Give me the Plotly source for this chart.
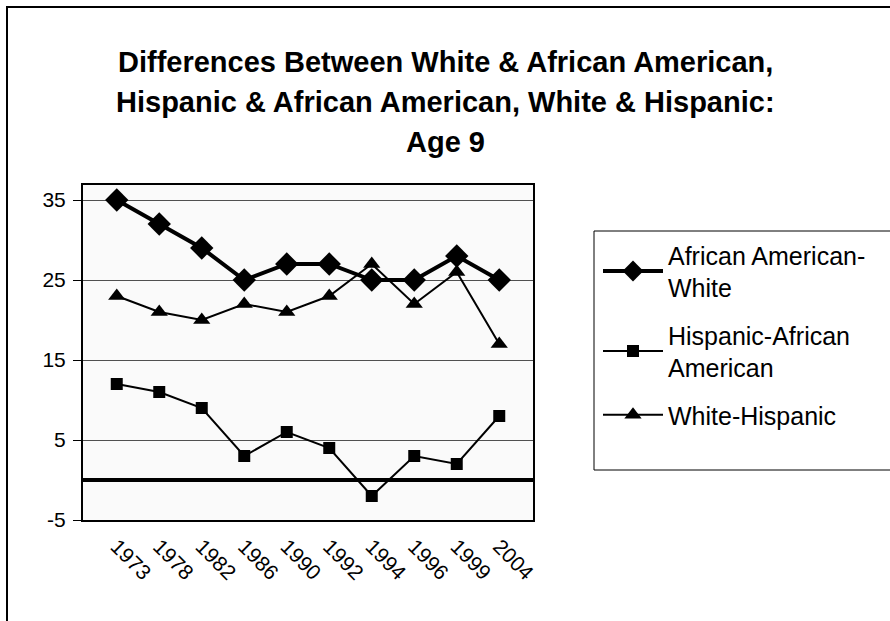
import plotly.graph_objects as go

years = ["1973", "1978", "1982", "1986", "1990", "1992", "1994", "1996", "1999", "2004"]
aa_white = [35, 32, 29, 25, 27, 27, 25, 25, 28, 25]
hisp_aa = [12, 11, 9, 3, 6, 4, -2, 3, 2, 8]
white_hisp = [23, 21, 20, 22, 21, 23, 27, 22, 26, 17]

names = ["African American-<br>White", "Hispanic-African<br>American", "White-Hispanic"]
title_lines = [
    "Differences Between White & African American,",
    "Hispanic & African American, White & Hispanic:",
    "Age 9",
]
y_tick_vals = [-5, 5, 15, 25, 35]
y_tick_text = ["-5", "5", "15", "25", "35"]

FONT = "Liberation Sans, Arial, sans-serif"

# plot area in pixels
L, R, T, B = 83, 533, 185, 520
W, H = 890, 621

def px_x(p):
    return (p - L) / (R - L)

def px_y(p):
    return (B - p) / (B - T)

fig = go.Figure()
fig.add_trace(go.Scatter(
    x=years, y=aa_white, name=names[0], mode="lines+markers",
    line=dict(color="black", width=4),
    marker=dict(symbol="diamond", size=18, color="black"),
    legendgroup="a",
))
fig.add_trace(go.Scatter(
    x=years, y=hisp_aa, name=names[1], mode="lines+markers",
    line=dict(color="black", width=2),
    marker=dict(symbol="square", size=12, color="black"),
    legendgroup="b",
))
fig.add_trace(go.Scatter(
    x=years, y=white_hisp, name=names[2], mode="lines+markers",
    line=dict(color="black", width=2),
    marker=dict(symbol="triangle-up", size=15, color="black"),
    legendgroup="c",
))

annotations = []
for i, t in enumerate(title_lines):
    annotations.append(dict(
        text="<b>%s</b>" % t, xref="paper", yref="paper",
        x=px_x(445), y=px_y(62 + 40 * i), xanchor="center", yanchor="middle",
        showarrow=False, font=dict(family=FONT, size=29, color="black"),
    ))

shapes = [
    # outer chart border
    dict(type="rect", xref="paper", yref="paper",
         x0=px_x(7), x1=px_x(900), y0=px_y(640), y1=px_y(7),
         line=dict(color="black", width=2), layer="below"),
    # legend box
    dict(type="rect", xref="paper", yref="paper",
         x0=px_x(594), x1=px_x(900), y0=px_y(470), y1=px_y(231),
         line=dict(color="black", width=1), fillcolor="white", layer="below"),
]

fig.update_layout(
    width=W, height=H,
    margin=dict(l=L, r=W - R, t=T, b=H - B, pad=0),
    paper_bgcolor="white",
    plot_bgcolor="#fafafa",
    font=dict(family=FONT, size=21, color="black"),
    showlegend=True,
    legend=dict(
        x=px_x(598), y=px_y(232), xanchor="left", yanchor="top",
        bgcolor="rgba(0,0,0,0)", borderwidth=0,
        font=dict(family=FONT, size=25, color="black"),
        traceorder="grouped", tracegroupgap=12, itemwidth=60,
    ),
    annotations=annotations,
    shapes=shapes,
    xaxis=dict(
        type="category", tickangle=45, showgrid=False, ticks="",
        showline=True, linecolor="black", linewidth=2, mirror=True,
        tickfont=dict(size=21), zeroline=False, ticklabelstandoff=4,
    ),
    yaxis=dict(
        range=[-5, 36.875], tickvals=y_tick_vals, ticktext=y_tick_text,
        ticks="outside", ticklen=8, tickcolor="black", tickwidth=1,
        showgrid=True, gridcolor="#505050", gridwidth=1,
        zeroline=True, zerolinecolor="black", zerolinewidth=4,
        showline=True, linecolor="black", linewidth=2, mirror=True,
        tickfont=dict(size=21), ticklabelstandoff=3,
    ),
)

fig.write_html("out.html")
